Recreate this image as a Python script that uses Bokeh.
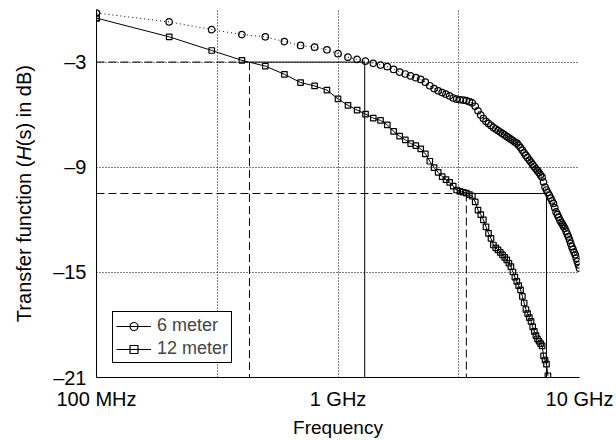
from bokeh.plotting import figure
from bokeh.models import FixedTicker, Legend, LegendItem, Range1d, Div
from bokeh.layouts import row
from bokeh.embed import file_html
from bokeh.resources import INLINE

# ---------------- data ----------------
freq_ghz = [0.1, 0.2, 0.3, 0.4, 0.5, 0.6, 0.7, 0.8, 0.9, 1.0,
            1.1, 1.2, 1.3, 1.4, 1.5, 1.6, 1.7, 1.8, 1.9, 2.0,
            2.1, 2.2, 2.3, 2.4, 2.5, 2.6, 2.7, 2.8, 2.9, 3.0,
            3.1, 3.2, 3.3, 3.4, 3.5, 3.6, 3.7, 3.8, 3.9, 4.0,
            4.1, 4.2, 4.3, 4.4, 4.5, 4.6, 4.7, 4.8, 4.9, 5.0,
            5.1, 5.2, 5.3, 5.4, 5.5, 5.6, 5.7, 5.8, 5.9, 6.0,
            6.1, 6.2, 6.3, 6.4, 6.5, 6.6, 6.7, 6.8, 6.9, 7.0,
            7.1, 7.2, 7.3, 7.4, 7.5, 7.6, 7.7, 7.8, 7.9, 8.0,
            8.1, 8.2, 8.3, 8.4, 8.5, 8.6, 8.7, 8.8, 8.9, 9.0,
            9.1, 9.2, 9.3, 9.4, 9.5, 9.6, 9.7, 9.8, 9.9, 10.0]

h_6m_db = [-0.20, -0.71, -1.15, -1.43, -1.56, -1.83, -2.05, -2.15, -2.30, -2.52,
           -2.72, -2.85, -2.95, -3.07, -3.17, -3.26, -3.42, -3.57, -3.68, -3.79,
           -3.89, -3.99, -4.15, -4.35, -4.51, -4.64, -4.74, -4.83, -4.93, -5.05,
           -5.12, -5.15, -5.17, -5.20, -5.26, -5.33, -5.52, -5.78, -6.02, -6.22,
           -6.38, -6.50, -6.62, -6.73, -6.82, -6.91, -6.99, -7.07, -7.16, -7.25,
           -7.32, -7.40, -7.48, -7.56, -7.63, -7.74, -7.88, -8.02, -8.18, -8.33,
           -8.46, -8.59, -8.71, -8.84, -8.97, -9.09, -9.20, -9.32, -9.44, -9.56,
           -9.85, -10.13, -10.30, -10.45, -10.60, -10.76, -10.92, -11.07, -11.31, -11.55,
           -11.70, -11.86, -12.02, -12.14, -12.26, -12.38, -12.49, -12.65, -12.81, -12.97,
           -13.16, -13.35, -13.54, -13.69, -13.85, -14.00, -14.19, -14.38, -14.57, -14.76]

h_12m_db = [-0.49, -1.56, -2.34, -2.90, -3.23, -3.70, -4.17, -4.36, -4.60, -5.10,
            -5.47, -5.74, -5.97, -6.20, -6.33, -6.58, -6.96, -7.23, -7.44, -7.65,
            -7.77, -7.95, -8.24, -8.66, -9.02, -9.30, -9.54, -9.71, -9.86, -10.08,
            -10.30, -10.38, -10.43, -10.48, -10.56, -10.65, -10.98, -11.45, -11.70, -12.00,
            -12.40, -12.78, -13.06, -13.44, -13.60, -13.72, -13.86, -14.00, -14.15, -14.29,
            -14.48, -14.67, -14.98, -15.27, -15.52, -15.76, -16.00, -16.37, -16.75, -17.12,
            -17.35, -17.58, -17.80, -18.11, -18.37, -18.61, -18.80, -18.93, -19.07, -19.20,
            -19.77, -20.00, -20.24, -20.90]

# bandwidth markers: level (dB), 12 m crossing (GHz), 6 m crossing (GHz)
cut_level_db = [-3.0, -10.5]
cut_12m_ghz = [0.43, 3.4]
cut_6m_ghz = [1.29, 7.3]

x_tick_vals = [0.1, 1, 10]
x_tick_labels = ["100 MHz", "1 GHz", "10 GHz"]
y_tick_vals = [-21, -15, -9, -3]
y_tick_labels = ["\u201321", "\u201315", "\u20139", "\u20133"]
series_labels = ["6 meter", "12 meter"]

x_min, x_max = 0.1, 10
y_min, y_max = -21, 0

FONT = "Liberation Sans"
LABEL_W = 48

p = figure(width=616 - LABEL_W, height=440, x_axis_type="log",
           x_range=Range1d(x_min, x_max), y_range=Range1d(y_min, y_max),
           output_backend="svg", toolbar_location=None,
           min_border_left=96 - LABEL_W, min_border_right=37,
           min_border_top=9, min_border_bottom=62)
p.outline_line_color = None
p.background_fill_color = "white"

# grids (dotted, at half decades / tick values incl. top & right edge)
p.xgrid.ticker = FixedTicker(ticks=[10 ** -0.5, 1, 10 ** 0.5, 10])
p.ygrid.ticker = FixedTicker(ticks=[-15, -9, -3, 0])
for g in (p.xgrid, p.ygrid):
    g.grid_line_color = "black"
    g.grid_line_dash = "1 2"
    g.grid_line_width = 1

# axes
p.xaxis.ticker = FixedTicker(ticks=x_tick_vals)
p.xaxis.major_label_overrides = dict(zip(x_tick_vals, x_tick_labels))
p.yaxis.ticker = FixedTicker(ticks=y_tick_vals)
p.yaxis.major_label_overrides = dict(zip(y_tick_vals, y_tick_labels))
for ax in (p.xaxis, p.yaxis):
    ax.axis_line_color = "black"
    ax.axis_line_width = 1
    ax.major_tick_in = 0
    ax.major_tick_out = 0
    ax.minor_tick_in = 0
    ax.minor_tick_out = 0
    ax.major_label_text_font = FONT
    ax.major_label_text_font_size = "20px"
    ax.major_label_text_color = "black"
    ax.major_label_standoff = 10
p.xaxis.axis_label = "Frequency"
p.xaxis.axis_label_text_font = FONT
p.xaxis.axis_label_text_font_size = "19px"
p.xaxis.axis_label_text_font_style = "normal"
p.xaxis.axis_label_text_color = "black"
p.xaxis.axis_label_standoff = 4

# bandwidth marker lines
dashed = dict(line_color="black", line_width=1, line_dash="8 4")
solid = dict(line_color="black", line_width=1)
n = len(cut_level_db)
p.segment(x0=[x_min] * n, y0=cut_level_db, x1=cut_12m_ghz, y1=cut_level_db, **dashed)
p.segment(x0=cut_12m_ghz, y0=cut_level_db, x1=cut_6m_ghz, y1=cut_level_db, **solid)
p.segment(x0=cut_12m_ghz, y0=cut_level_db, x1=cut_12m_ghz, y1=[y_min] * n, **dashed)
p.segment(x0=cut_6m_ghz, y0=cut_level_db, x1=cut_6m_ghz, y1=[y_min] * n, **solid)

# data series
f12 = freq_ghz[:len(h_12m_db)]
circ = dict(marker="circle", size=6.5, fill_color=None, line_color="black", line_width=1.2)
sq = dict(marker="square", size=5.5, fill_color=None, line_color="black", line_width=1.2)
p.line(freq_ghz, h_6m_db, line_color="black", line_width=1, line_dash="1 3")
p.scatter(freq_ghz, h_6m_db, **circ)
p.line(f12, h_12m_db, line_color="black", line_width=1)
p.scatter(f12, h_12m_db, **sq)

# legend renderers (solid line + marker); one-point copies of the first sample,
# which draw nothing new on the plot itself
lg_l1 = p.line(freq_ghz[:1], h_6m_db[:1], line_color="black", line_width=1)
lg_s1 = p.scatter(freq_ghz[:1], h_6m_db[:1], **circ)
lg_l2 = p.line(f12[:1], h_12m_db[:1], line_color="black", line_width=1)
lg_s2 = p.scatter(f12[:1], h_12m_db[:1], **sq)
legend = Legend(items=[LegendItem(label=series_labels[0], renderers=[lg_l1, lg_s1]),
                       LegendItem(label=series_labels[1], renderers=[lg_l2, lg_s2])],
                location=(16, 14), border_line_color="black", border_line_width=1,
                border_line_alpha=1,
                background_fill_color="white", background_fill_alpha=1,
                label_text_font=FONT, label_text_font_size="18px",
                glyph_width=35, glyph_height=20, label_height=20,
                label_standoff=6, padding=3, spacing=2, margin=0)
p.add_layout(legend)

# y axis title with italic H (HTML text, rotated)
ylab = Div(
    text=('<div style="width:%dpx;height:388px;display:flex;align-items:center;'
          'justify-content:center;">'
          '<span style="writing-mode:vertical-rl;transform:rotate(180deg);'
          'font-family:\'Liberation Sans\';font-size:20px;color:black;'
          'white-space:nowrap;line-height:1;">'
          'Transfer function (<i>H</i>(s) in dB)</span></div>') % LABEL_W,
    width=LABEL_W, height=440, margin=0)

layout = row(ylab, p, spacing=0)
open("out.html", "w").write(file_html(layout, INLINE))
